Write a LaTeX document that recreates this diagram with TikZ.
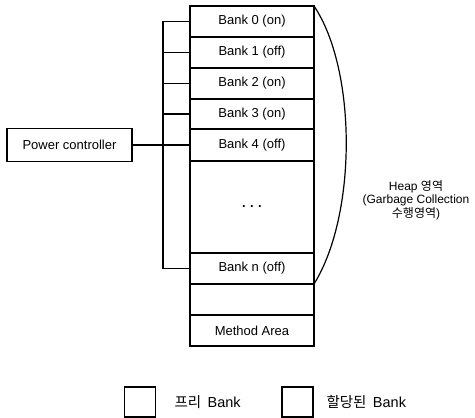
\documentclass[tikz,border=0pt]{standalone}
\usepackage{fontspec}
\setmainfont{Liberation Sans}
\newfontfamily\kr{Noto Sans CJK KR}
\begin{document}
\begin{tikzpicture}[x=1pt,y=-1pt,
  every node/.style={font=\fontsize{13}{15}\selectfont},
  row/.style={draw,line width=1.2pt,minimum width=124pt,inner sep=0pt,outer sep=0pt},
  wire/.style={line width=1.2pt},
  legbox/.style={draw,line width=1.3pt,minimum width=31pt,minimum height=30pt,inner sep=0pt}]
\useasboundingbox (0,0) rectangle (475,418);
% memory column
\node[row,minimum height=31pt] (bank0) at (252,21.5) {Bank 0 (on)};
\node[row,minimum height=31pt] (bank1) at (252,52.5) {Bank 1 (off)};
\node[row,minimum height=31pt] (bank2) at (252,83.5) {Bank 2 (on)};
\node[row,minimum height=30pt] (bank3) at (252,114) {Bank 3 (on)};
\node[row,minimum height=32pt] (bank4) at (252,145) {Bank 4 (off)};
\node[row,minimum height=92pt] (dots) at (252,207) {\textbf{.\,\,.\,\,.}};
\node[row,minimum height=31pt] (bankn) at (252,268.5) {Bank n (off)};
\node[row,minimum height=31pt] (empty) at (252,299.5) {};
\node[row,minimum height=31pt] (method) at (252,330.5) {Method Area};
% power controller
\node[draw,line width=1.2pt,minimum width=125pt,minimum height=33pt,inner sep=0pt] (pc) at (69.5,145) {Power controller};
% bus
\coordinate (bus0) at (163,21.5);
\draw[wire] (bank0.west) -- (bus0) |- (bankn.west);
\draw[wire] (bank1.west) -- (bank1.west -| bus0);
\draw[wire] (bank2.west) -- (bank2.west -| bus0);
\draw[wire] (bank3.west) -- (bank3.west -| bus0);
\draw[wire] (pc.east) -- (bank4.west);
% heap brace
\draw[wire] (bank0.north east) .. controls (357,70) and (357,215) .. (bankn.south east);
\node[align=center,font=\fontsize{12}{13.5}\selectfont] (heap) at (416,200)
  {Heap {\kr 영역}\\(Garbage Collection\\{\kr 수행영역})};
% legend
\node[legbox] (free) at (140,402) {};
\node[anchor=west,font=\fontsize{14.5}{16}\selectfont] (freet) at (171,402) {{\kr 프리}\, Bank};
\node[legbox] (alloc) at (297.5,402) {};
\node[anchor=west,font=\fontsize{14.5}{16}\selectfont] (alloct) at (323,402) {{\kr 할당된}\, Bank};
\end{tikzpicture}
\end{document}
